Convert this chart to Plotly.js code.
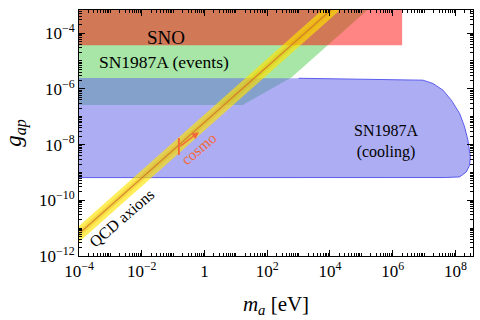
<!DOCTYPE html>
<html>
<head>
<meta charset="utf-8">
<script src="https://cdn.plot.ly/plotly-3.0.1.min.js"></script>
<style>html,body{margin:0;padding:0;background:#fff;}#plot{width:480px;height:320px;}</style>
</head>
<body>
<div id="plot"></div>
<script>
// ---- data (axion mass m_a in eV, coupling g_ap) ----
const snoMass = [1e-6, 2.0e6, 2.0e6, 1e-6];
const snoCoupling = [3.7e-5, 3.7e-5, 1e-2, 1e-2];

const eventsMass = [1e-6, 16.6, 603, 1.6e6, 1e-6];
const eventsCoupling = [2.63e-7, 2.63e-7, 2.63e-6, 6.9e-3, 6.9e-3];

const coolingMass = [1e-6, 1e3, 9.2e6, 1.92e7, 4.0e7, 7.4e7, 1.36e8, 1.96e8, 2.5e8, 2.99e8, 2.83e8, 2.22e8, 1.36e8, 5.1e7, 1e-6];
const coolingCoupling = [2.48e-6, 2.4e-6, 2.05e-6, 1.56e-6, 8.97e-7, 3.92e-7, 1.31e-7, 4.31e-8, 1.44e-8, 3.61e-9, 1.82e-9, 1.04e-9, 6.9e-10, 6.56e-10, 6.5e-10];

const qcdMass = [1e-5, 1e5];
const qcdCentral = [6.3e-13, 6.3e-3];
const qcdOuterHigh = [1.2e-12, 1.2e-2];
const qcdOuterLow = [3.2e-13, 3.2e-3];
const qcdInnerHigh = [8.4e-13, 8.4e-3];
const qcdInnerLow = [4.7e-13, 4.7e-3];

const cosmoMass = [0.153, 0.153];
const cosmoCoupling = [1.7e-8, 4.2e-9];
const cosmoArrowFrom = [0.153, 8.0e-9];
const cosmoArrowTo = [0.665, 2.78e-8];

const xTickVals = [1e-4, 1e-2, 1, 1e2, 1e4, 1e6, 1e8];
const xTickText = ['10<sup>−4</sup>', '10<sup>−2</sup>', '1', '10<sup>2</sup>', '10<sup>4</sup>', '10<sup>6</sup>', '10<sup>8</sup>'];
const yTickVals = [1e-12, 1e-10, 1e-8, 1e-6, 1e-4];
const yTickText = ['10<sup>−12</sup>', '10<sup>−10</sup>', '10<sup>−8</sup>', '10<sup>−6</sup>', '10<sup>−4</sup>'];

// label anchors (data units)
const labels = [
  {text: 'SNO', m: 0.059, g: 6.9e-5, size: 19, angle: 0, color: '#000'},
  {text: 'SN1987A (events)', m: 0.0525, g: 9.1e-6, size: 17.5, angle: 0, color: '#000'},
  {text: 'SN1987A<br>(cooling)', m: 6.0e5, g: 1.25e-8, size: 16, angle: 0, color: '#000'},
  {text: 'QCD axions', m: 2.43e-3, g: 2.35e-11, size: 16, angle: -41, color: '#000'},
  {text: 'cosmo', m: 0.65, g: 7.5e-9, size: 15.5, angle: -40, color: '#f26a3c'}
];

// minor tick positions
function minorTicks(lo, hi) {
  const out = [];
  for (let e = lo; e <= hi; e++) {
    for (let d = 1; d <= 9; d++) out.push(d * Math.pow(10, e));
  }
  return out;
}

const traces = [
  {x: eventsMass, y: eventsCoupling, mode: 'none', fill: 'toself',
   fillcolor: 'rgba(60,200,60,0.45)'},
  {x: coolingMass, y: coolingCoupling, mode: 'none', fill: 'toself',
   fillcolor: 'rgba(100,100,235,0.53)'},
  {x: coolingMass.slice(1), y: coolingCoupling.slice(1), mode: 'lines',
   line: {color: 'rgba(70,70,235,0.85)', width: 1}},
  {x: snoMass, y: snoCoupling, mode: 'none', fill: 'toself',
   fillcolor: 'rgba(255,0,0,0.48)'},
  {x: qcdMass.concat(qcdMass.slice().reverse()), y: qcdOuterHigh.concat(qcdOuterLow.slice().reverse()),
   mode: 'none', fill: 'toself', fillcolor: 'rgba(255,228,0,0.65)'},
  {x: qcdMass.concat(qcdMass.slice().reverse()), y: qcdInnerHigh.concat(qcdInnerLow.slice().reverse()),
   mode: 'none', fill: 'toself', fillcolor: 'rgba(225,165,0,0.25)'},
  {x: qcdMass, y: qcdCentral, mode: 'lines', line: {color: 'rgba(205,110,40,0.8)', width: 1.2}},
  {x: cosmoMass, y: cosmoCoupling, mode: 'lines', line: {color: '#f26a3c', width: 2}}
];

const annotations = labels.map(l => ({
  x: Math.log10(l.m), y: Math.log10(l.g), xref: 'x', yref: 'y', text: l.text,
  showarrow: false, textangle: l.angle,
  font: {family: 'Liberation Serif, Times New Roman, serif', size: l.size, color: l.color}
}));
annotations.push({
  x: Math.log10(cosmoArrowTo[0]), y: Math.log10(cosmoArrowTo[1]),
  ax: Math.log10(cosmoArrowFrom[0]), ay: Math.log10(cosmoArrowFrom[1]),
  xref: 'x', yref: 'y', axref: 'x', ayref: 'y', text: '', showarrow: true,
  arrowcolor: '#f26a3c', arrowwidth: 1.4, arrowhead: 2, arrowsize: 1
});

const axisCommon = {
  type: 'log', tickmode: 'array', ticks: 'inside', ticklen: 6, tickwidth: 1, tickcolor: '#000',
  showline: true, linecolor: '#000', linewidth: 1, mirror: 'ticks', showgrid: false, zeroline: false,
  tickfont: {family: 'Liberation Serif, Times New Roman, serif', size: 17, color: '#000'}
};

const layout = {
  width: 480, height: 320,
  margin: {l: 79, r: 7, t: 10, b: 64},
  paper_bgcolor: '#fff', plot_bgcolor: '#fff',
  showlegend: false, hovermode: false,
  font: {family: 'Liberation Serif, Times New Roman, serif', color: '#000'},
  xaxis: Object.assign({}, axisCommon, {
    range: [-4, 8.56], tickvals: xTickVals, ticktext: xTickText,
    minor: {tickmode: 'array', tickvals: minorTicks(-4, 8), ticks: 'inside', ticklen: 3, tickcolor: '#000', showgrid: false},
    title: {text: '<i>m</i><sub><i>a</i></sub> [eV]', font: {size: 21, color: '#000'}, standoff: 15}
  }),
  yaxis: Object.assign({}, axisCommon, {
    range: [-12, -3.17], tickvals: yTickVals, ticktext: yTickText,
    minor: {tickmode: 'array', tickvals: minorTicks(-12, -4), ticks: 'inside', ticklen: 3, tickcolor: '#000', showgrid: false},
    title: {text: '<i>g</i><sub><i>ap</i></sub>', font: {size: 23, color: '#000'}, standoff: 10}
  }),
  annotations: annotations
};

Plotly.newPlot('plot', traces, layout, {staticPlot: true, displayModeBar: false});
</script>
</body>
</html>
